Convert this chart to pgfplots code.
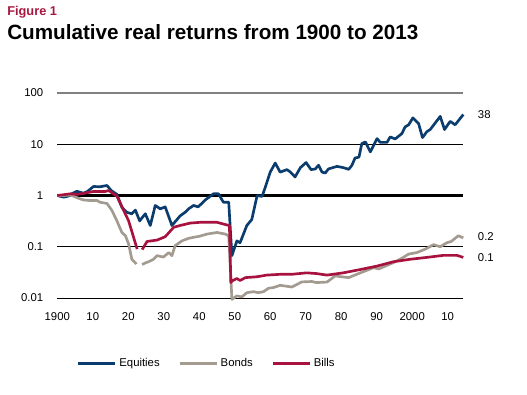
\documentclass[border=0pt]{standalone}
\usepackage{fontspec}
\setmainfont{Liberation Sans}
\usepackage{pgfplots}
\pgfplotsset{compat=1.18}
\definecolor{eq}{HTML}{0B3C6E}
\definecolor{bo}{HTML}{A39A90}
\definecolor{bi}{HTML}{A8123E}
\definecolor{fig}{HTML}{A8173F}
\begin{document}
\begin{tikzpicture}
\path (0pt,0pt) rectangle (395.25pt,-295.5pt);
\node[anchor=base west, inner sep=0, text=fig, font=\fontsize{9.6}{11}\selectfont\bfseries] at (5.25pt,-11.25pt) {Figure 1};
\node[anchor=base west, inner sep=0, font=\fontsize{15.5}{18}\selectfont\bfseries] at (5.25pt,-29.475pt) {Cumulative real returns from 1900 to 2013};
\begin{axis}[
  at={(42.975pt,-223.5pt)}, anchor=south west, scale only axis,
  width=304.5pt, height=153.75pt,
  xmin=1900, xmax=2014.4, ymin=0.01, ymax=100, ymode=log,
  axis line style={draw=none}, tick style={draw=none}, major tick length=0pt,
  xtick={1900,1910,...,2010}, xticklabels={1900,10,20,30,40,50,60,70,80,90,2000,10},
  ytick={0.01,0.1,1,10,100}, yticklabels={0.01,0.1,1,10,100},
  ymajorgrids, grid style={black, line width=0.75pt},
  tick label style={font=\fontsize{8.5}{10}\selectfont},
  xticklabel style={yshift=-7.5pt}, yticklabel style={xshift=-7pt},
  /pgf/number format/assume math mode=true,
  unbounded coords=jump, clip=false,
  legend columns=3,
  legend style={draw=none, fill=none, at={(0.048,-0.318)}, anchor=west, inner sep=0pt,
    font=\fontsize{8.5}{10}\selectfont,
    /tikz/every even column/.append style={column sep=12pt}},
  legend image code/.code={\draw[#1] (0pt,0pt) -- (27.75pt,0pt);},
  every axis plot/.append style={line width=2pt, line join=round},
]
\draw[black, line width=1.8pt] (axis cs:1900,1) -- (axis cs:2014.4,1);
\draw[gray, line width=1pt] (axis cs:1900,100) -- (axis cs:2014.4,100);
\addplot[eq] coordinates {
(1900,1.0) (1901.8,0.93) (1903,0.97) (1904.5,1.12) (1905.5,1.21) (1907.4,1.11) (1908.5,1.2)
(1910.2,1.5) (1912,1.48) (1914.0,1.57) (1915.2,1.25) (1916.8,1.05) (1918.2,0.59) (1919.6,0.47)
(1921.0,0.44) (1922.0,0.52) (1923.2,0.32) (1924.8,0.44) (1926.2,0.26) (1927.6,0.64) (1929,0.55)
(1930.4,0.6) (1932.3,0.26) (1934.6,0.4) (1936,0.47) (1937,0.55) (1938.4,0.64) (1939.7,0.6)
(1941.7,0.82) (1944.0,1.08) (1945.4,1.08) (1946.8,0.74) (1948.3,0.74) (1949.2,0.067)
(1950.6,0.13) (1951.5,0.12) (1953.4,0.26) (1954.8,0.34) (1956.3,1.0) (1957.7,0.96) (1958.6,1.45)
(1960,2.86) (1961.4,4.3) (1962.8,2.86) (1964.7,3.2) (1965.6,2.9) (1967,2.3) (1968.5,3.5)
(1970.1,4.4) (1971.5,3.2) (1972.7,3.3) (1973.6,3.9) (1974.6,2.86) (1975.5,2.75) (1976.4,3.3)
(1978.8,3.7) (1980.6,3.5) (1982.1,3.24) (1983,3.87) (1983.9,5.4) (1985,5.6) (1985.8,10.3)
(1986.8,11.1) (1988.2,7.1) (1990.1,12.9) (1991,10.9) (1992.9,10.9) (1993.8,13.9) (1995.2,12.7)
(1997.1,16.2) (1998,21.8) (1999,24) (2000.2,32.8) (2001.8,25.4) (2002.9,13.5) (2004.1,17.5)
(2005.1,19.5) (2007.9,35) (2009.1,19.4) (2010.7,28) (2012.1,24) (2014.4,38)
};
\addlegendentry{Equities}
\addplot[bo] coordinates {
(1900,1.0) (1902,1.0) (1903.5,1.02) (1904.6,0.97) (1906,0.88) (1907.4,0.82) (1909,0.8)
(1911.2,0.8) (1912,0.74) (1914,0.7) (1915.4,0.51) (1916.8,0.32) (1918.2,0.19) (1919.2,0.164)
(1920.1,0.113) (1921,0.057) (1922.3,0.046) (1923,nan) (1923.9,0.045) (1925,0.049) (1925.7,0.051)
(1927.1,0.057) (1928.1,0.067) (1929.9,0.063) (1931.4,0.077) (1932.3,0.067) (1933.2,0.105)
(1935.1,0.13) (1937,0.146) (1938.4,0.153) (1940,0.16) (1942.2,0.177) (1945,0.19) (1947.3,0.177)
(1948.3,0.164) (1949.2,0.0094) (1950.6,0.011) (1952,0.0105) (1953.4,0.0127) (1955.3,0.0133)
(1956.6,0.0127) (1958.1,0.0133) (1959.5,0.0155) (1960.9,0.016) (1962.8,0.0177) (1966.1,0.0164)
(1968.9,0.0206) (1971.7,0.021) (1973,0.020) (1976,0.0205) (1978.3,0.027) (1980,0.026)
(1982.1,0.025) (1985.4,0.031) (1989.1,0.039) (1990.6,0.037) (1994.7,0.049) (1996.6,0.057)
(1999,0.072) (2001.3,0.077) (2003.7,0.09) (2006,0.11) (2007.9,0.1) (2009.8,0.12) (2011,0.127)
(2013,0.164) (2014.4,0.149)
};
\addlegendentry{Bonds}
\addplot[bi] coordinates {
(1900,1.0) (1903.7,1.08) (1905.5,1.05) (1907.4,1.1) (1910.2,1.2) (1913.5,1.2) (1914.5,1.25)
(1916.8,0.97) (1918.7,0.51) (1920.1,0.32) (1922.5,0.09) (1923,nan) (1923.9,0.088) (1925.3,0.127)
(1928.1,0.135) (1930.4,0.157) (1932.8,0.24) (1934.6,0.26) (1937.5,0.29) (1940.3,0.3) (1945,0.3)
(1947.8,0.266) (1948.5,0.26) (1948.9,0.02) (1949.2,0.0215) (1950.6,0.024) (1951.5,0.022)
(1953,0.025) (1956.3,0.026) (1959,0.028) (1962.8,0.029) (1966,0.029) (1970.3,0.031) (1973,0.030)
(1976,0.028) (1980.6,0.031) (1985.4,0.036) (1990.1,0.042) (1994.7,0.051) (1999.4,0.057)
(2004.1,0.062) (2008.8,0.068) (2012.6,0.068) (2014.4,0.062)
};
\addlegendentry{Bills}
\end{axis}
\node[anchor=west, inner sep=0, font=\fontsize{8.5}{10}\selectfont] at (358.275pt,-86.25pt) {38};
\node[anchor=west, inner sep=0, font=\fontsize{8.5}{10}\selectfont] at (358.275pt,-177.75pt) {0.2};
\node[anchor=west, inner sep=0, font=\fontsize{8.5}{10}\selectfont] at (358.275pt,-193.5pt) {0.1};
\end{tikzpicture}
\end{document}
